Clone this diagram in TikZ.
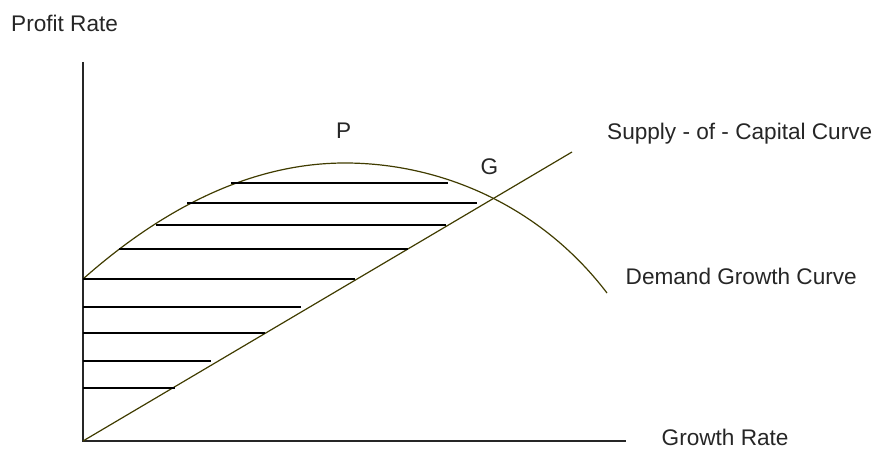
\documentclass[tikz,border=0pt]{standalone}
\usepackage{fontspec}
\setmainfont{Liberation Sans}
\usepackage{tikz}
\usetikzlibrary{positioning}

\definecolor{curveolive}{RGB}{64,60,0}

\begin{document}
\begin{tikzpicture}[
    x=1pt, y=-1pt,
    axisline/.style={draw=black!85, line width=1.2pt},
    curveline/.style={draw=curveolive, line width=1.2pt},
    hatchline/.style={draw=black, line width=1.3pt},
    lbl/.style={font=\fontsize{22.6}{26}\selectfont, text=black!85, inner sep=0pt, anchor=base west}
]
\useasboundingbox (0,0) rectangle (883,449);
% axes
\coordinate (origin) at (83,441);
\coordinate (ytop) at (83,62);
\coordinate (xend) at (626,441);
\draw[axisline] (ytop) -- (origin) -- (xend);
% supply line and demand curve
\coordinate (sup) at (572,152);
\coordinate (dstart) at (83,279);
\coordinate (peak) at (345,163);
\coordinate (dend) at (607,293);
\draw[curveline] (origin) -- (sup);
\draw[curveline] (dstart) .. controls (170,202) and (258,163) .. (peak)
    .. controls (440,163) and (540,205) .. (dend);
% hatching
\foreach \yy/\xa/\xb in {183/231/448, 203/187/477, 225/156/446, 249/119/408,
    279/83/355, 307/83/301, 333/83/265, 361/83/211, 388/83/175}
    \draw[hatchline] (\xa,\yy) -- (\xb,\yy);
% labels
\node[lbl] (yname) at (11,31.7) {Profit Rate};
\node[lbl] (pname) at (336,139) {P};
\node[lbl] (gname) at (480.5,175) {G};
\node[lbl] (supname) at (607,139.3) {Supply - of - Capital Curve};
\node[lbl] (demname) at (625.5,284) {Demand Growth Curve};
\node[lbl] (xname) at (661.5,445) {Growth Rate};
\end{tikzpicture}
\end{document}
